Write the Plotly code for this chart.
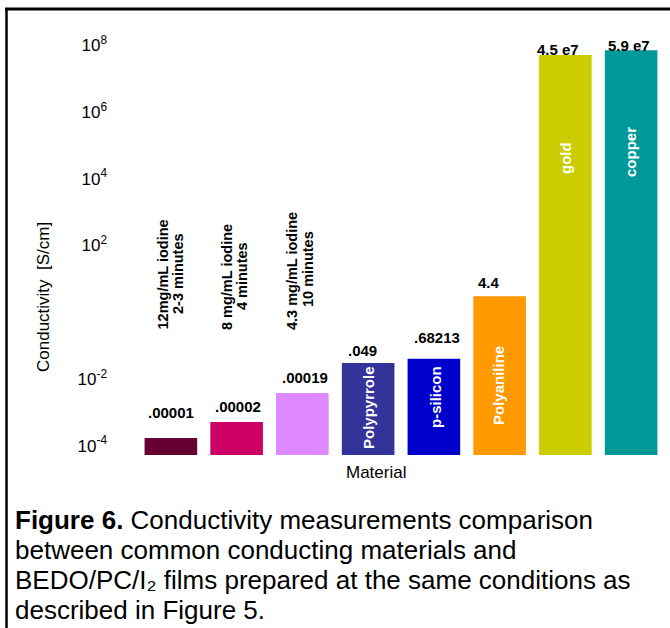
import plotly.graph_objects as go

# ---------------- data ----------------
categories = ["12mg/mL iodine 2-3 minutes", "8 mg/mL iodine 4 minutes",
              "4.3 mg/mL iodine 10 minutes", "Polypyrrole", "p-silicon",
              "Polyaniline", "gold", "copper"]
# bar heights
bar_heights = [1.7e-4, 5.1e-4, 3.8e-3, 0.030, 0.040, 3.0, 5.0e7, 7.0e7]
# value labels printed above the bars
value_labels = [".00001", ".00002", ".00019", ".049", ".68213", "4.4", "4.5 e7", "5.9 e7"]
# names written inside bars (blank for the iodine films)
inner_labels = ["", "", "", "Polypyrrole", "p-silicon", "Polyaniline", "gold", "copper"]
# rotated notes above the iodine-film bars
film_notes = [("12mg/mL iodine", "2-3 minutes"),
              ("8 mg/mL iodine", "4 minutes"),
              ("4.3 mg/mL iodine", "10 minutes")]
tick_values = [1e-4, 1e-2, 1e2, 1e4, 1e6, 1e8]
tick_labels = ["10<sup>-4</sup>", "10<sup>-2</sup>", "10<sup>2</sup>",
               "10<sup>4</sup>", "10<sup>6</sup>", "10<sup>8</sup>"]
colors = ["#660033", "#CC0066", "#DD88FF", "#333399", "#0000CC",
          "#FF9900", "#CCCC00", "#009999"]
caption_lines = ["<b>Figure 6.</b> Conductivity measurements comparison",
                 "between common conducting materials and",
                 "BEDO/PC/I\u2082 films prepared at the same conditions as",
                 "described in Figure 5."]

W, H = 670, 628
FONT = "Liberation Sans, Arial, sans-serif"


def px(x):
    return x / W


def py(y):
    return 1 - y / H


fig = go.Figure(go.Bar(x=categories, y=bar_heights, marker_color=colors,
                       marker_line_width=0, hoverinfo="x+y"))

ann = []
# value labels
val_pos = [(171, 412), (238, 406), (305, 377), (362, 350), (437, 337),
           (489, 282), (558, 49), (629, 45)]
for t, (x, y) in zip(value_labels, val_pos):
    ann.append(dict(text=t, x=px(x), y=py(y), xref="paper", yref="paper",
                    xanchor="center", yanchor="middle", showarrow=False,
                    font=dict(family=FONT, size=15, color="black", weight="bold")))
# inner labels
inner_pos = [None, None, None, (368, 408), (435, 397), (498, 386), (565, 158), (631, 152)]
for t, p in zip(inner_labels, inner_pos):
    if not t:
        continue
    ann.append(dict(text=t, x=px(p[0]), y=py(p[1]), xref="paper", yref="paper",
                    xanchor="center", yanchor="middle", showarrow=False, textangle=-90,
                    font=dict(family=FONT, size=15, color="white", weight="bold")))
# film notes
note_pos = [((162.5, 275), (178, 274)), ((227, 277), (242, 276)), ((292, 271), (308, 269))]
for (l1, l2), ((x1, y1), (x2, y2)) in zip(film_notes, note_pos):
    for t, x, y in ((l1, x1, y1), (l2, x2, y2)):
        ann.append(dict(text=t, x=px(x), y=py(y), xref="paper", yref="paper",
                        xanchor="center", yanchor="middle", showarrow=False, textangle=-90,
                        font=dict(family=FONT, size=14.5, color="black", weight="bold")))
# axis titles
ann.append(dict(text="Conductivity  [S/cm]", x=px(44), y=py(297), xref="paper", yref="paper",
                xanchor="center", yanchor="middle", showarrow=False, textangle=-90,
                font=dict(family=FONT, size=17, color="black")))
ann.append(dict(text="Material", x=px(376), y=py(472), xref="paper", yref="paper",
                xanchor="center", yanchor="middle", showarrow=False,
                font=dict(family=FONT, size=17, color="black")))
# caption
cap_y = [520, 550, 580, 610]
for t, y in zip(caption_lines, cap_y):
    ann.append(dict(text=t, x=px(13), y=py(y), xref="paper", yref="paper",
                    xanchor="left", yanchor="middle", showarrow=False,
                    font=dict(family=FONT, size=26, color="black")))

shapes = [
    dict(type="line", xref="paper", yref="paper", x0=px(5), x1=px(670), y0=py(9), y1=py(9),
         line=dict(color="black", width=3)),
    dict(type="line", xref="paper", yref="paper", x0=px(6.5), x1=px(6.5), y0=py(8), y1=py(628),
         line=dict(color="black", width=2.5)),
]

fig.update_layout(
    width=W, height=H, margin=dict(l=0, r=0, t=0, b=0),
    paper_bgcolor="white", plot_bgcolor="white", showlegend=False,
    bargap=0.2,
    font=dict(family=FONT, color="black"),
    xaxis=dict(domain=[px(138), px(664)], showticklabels=False, showgrid=False,
               zeroline=False, showline=False, ticks=""),
    yaxis=dict(type="log", range=[-4.28, 8.75], domain=[py(455), py(20)],
               tickvals=tick_values, ticktext=tick_labels, showgrid=False,
               zeroline=False, showline=False, ticks="", ticklabelstandoff=30,
               tickfont=dict(family=FONT, size=17, color="black")),
    annotations=ann, shapes=shapes,
)

fig.write_html("out.html")
